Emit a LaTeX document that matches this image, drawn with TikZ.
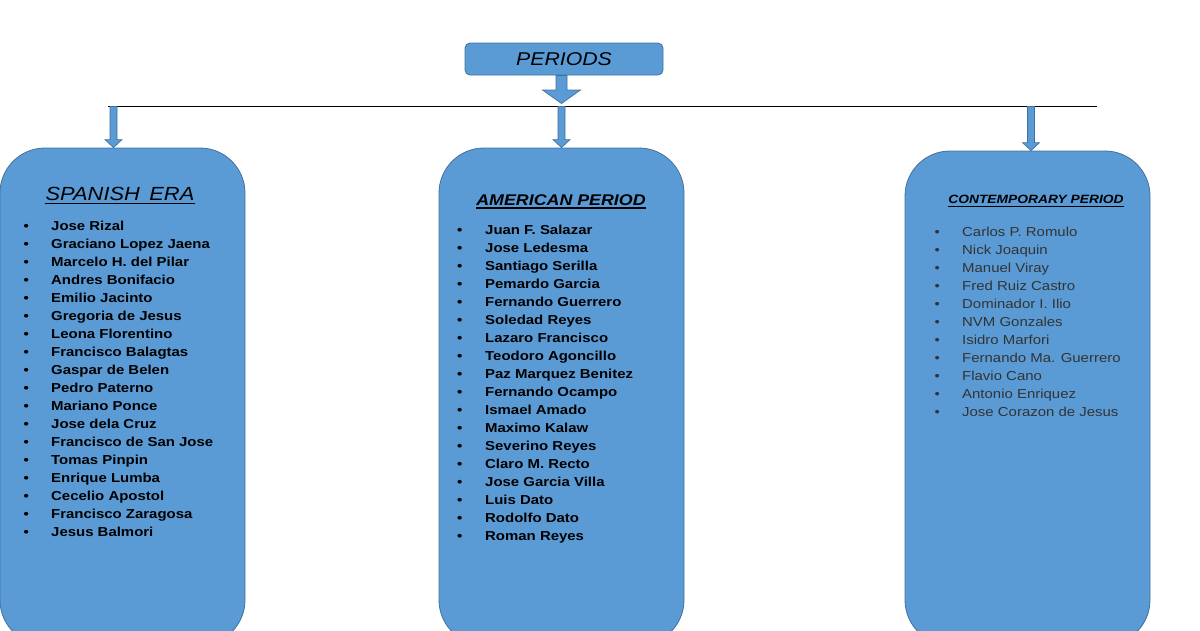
\documentclass[tikz,border=0pt]{standalone}
\usepackage{fontspec}
\setmainfont{Liberation Sans}[FakeStretch=1.15]
\usetikzlibrary{calc}

\definecolor{boxblue}{RGB}{91,155,213}
\definecolor{boxedge}{RGB}{65,113,156}

% block arrow: start, tip, half shaft, half head, head length
\newcommand{\blockarrow}[5]{%
  \draw[arrowshape] ($(#1)+(-#3,0)$) -- ($(#2)+(-#3,-#5)$) -- ($(#2)+(-#4,-#5)$) -- (#2)
    -- ($(#2)+(#4,-#5)$) -- ($(#2)+(#3,-#5)$) -- ($(#1)+(#3,0)$) -- cycle;}

\begin{document}
\begin{tikzpicture}[x=1pt,y=1pt,yscale=-1,
  periodbox/.style={draw=boxedge,fill=boxblue,line width=0.8pt,rounded corners=45pt,inner sep=0pt},
  arrowshape/.style={draw=boxedge,fill=boxblue,line width=0.7pt,line join=miter},
  bar/.style={line width=1.2pt},
  heading/.style={inner sep=0pt,anchor=base},
  item/.style={inner sep=0pt,anchor=base west,font=\fontsize{13}{16}\selectfont\bfseries},
  plainitem/.style={item,font=\fontsize{13}{16}\selectfont,text=black!80}]
	\useasboundingbox (0,0) rectangle (1200,630);

	%Top box
	\node[periodbox,rounded corners=5pt,minimum width=198pt,minimum height=32pt,
	  font=\fontsize{18.5}{20}\selectfont\itshape] (periods) at (564,59) {PERIODS};

	%Bar and taps
	\coordinate (barwest) at (108,106.5);
	\coordinate (bareast) at (1097,106.5);
	\coordinate (tapA) at (113.5,106.5);
	\coordinate (tapB) at (561.5,106.5);
	\coordinate (tapC) at (1031,106.5);
	\draw[bar] (barwest) -- (bareast);

	%Period boxes
	\node[periodbox,minimum width=245pt,minimum height=497pt] (spanish) at (122.5,396.5) {};
	\node[periodbox,minimum width=245pt,minimum height=497pt] (american) at (561.5,396.5) {};
	\node[periodbox,minimum width=245pt,minimum height=494pt] (contemporary) at (1027.5,398) {};

	%Arrows
	\coordinate (topfoot) at (tapB |- periods.south);
	\coordinate (toptip) at (561.5,103.5);
	\blockarrow{topfoot}{toptip}{5.5}{19}{13.5}
	\coordinate (tipA) at (tapA |- spanish.north);
	\coordinate (tipB) at (tapB |- american.north);
	\coordinate (tipC) at (tapC |- contemporary.north);
	\blockarrow{tapA}{tipA}{3.5}{8.5}{8}
	\blockarrow{tapB}{tipB}{3.5}{8.5}{8}
	\blockarrow{tapC}{tipC}{3.5}{8.5}{8}

	%Headings
	\node[heading,font=\fontsize{19}{20}\selectfont\itshape] (spanishT) at (120,200) {SPANISH\hspace{0.5em}ERA};
	\draw[line width=1.5pt] ([yshift=3.5pt]spanishT.base west) -- ([yshift=3.5pt]spanishT.base east);
	\node[heading,font=\fontsize{15.5}{18}\selectfont\bfseries\itshape] (americanT) at (561,205) {AMERICAN PERIOD};
	\draw[line width=1.3pt] ([yshift=3pt]americanT.base west) -- ([yshift=3pt]americanT.base east);
	\node[heading,font=\fontsize{12}{14}\selectfont\bfseries\itshape] (contemporaryT) at (1036,203.5) {CONTEMPORARY PERIOD};
	\draw[line width=1pt] ([yshift=2.5pt]contemporaryT.base west) -- ([yshift=2.5pt]contemporaryT.base east);

	%Lists
	\foreach \name [count=\i] in {Jose Rizal,Graciano Lopez Jaena,Marcelo H. del Pilar,Andres Bonifacio,
	  Emilio Jacinto,Gregoria de Jesus,Leona Florentino,Francisco Balagtas,Gaspar de Belen,Pedro Paterno,
	  Mariano Ponce,Jose dela Cruz,Francisco de San Jose,Tomas Pinpin,Enrique Lumba,Cecelio Apostol,
	  Francisco Zaragosa,Jesus Balmori}
	  \node[item] (spanish-\i) at (23.5,{230+18*(\i-1)}) {\makebox[27.5pt][l]{\textbullet}\name};
	\foreach \name [count=\i] in {Juan F. Salazar,Jose Ledesma,Santiago Serilla,Pemardo Garcia,
	  Fernando Guerrero,Soledad Reyes,Lazaro Francisco,Teodoro Agoncillo,Paz Marquez Benitez,
	  Fernando Ocampo,Ismael Amado,Maximo Kalaw,Severino Reyes,Claro M. Recto,Jose Garcia Villa,
	  Luis Dato,Rodolfo Dato,Roman Reyes}
	  \node[item] (american-\i) at (457,{234+18*(\i-1)}) {\makebox[28pt][l]{\textbullet}\name};
	\foreach \name [count=\i] in {Carlos P. Romulo,Nick Joaquin,Manuel  Viray,Fred Ruiz  Castro,
	  Dominador I. Ilio,NVM Gonzales,Isidro Marfori,Fernando Ma. Guerrero,Flavio Cano,
	  Antonio Enriquez,Jose Corazon de Jesus}
	  \node[plainitem] (contemporary-\i) at (934.5,{236+18*(\i-1)}) {\makebox[27.5pt][l]{\textbullet}\name};

\end{tikzpicture}
\end{document}
